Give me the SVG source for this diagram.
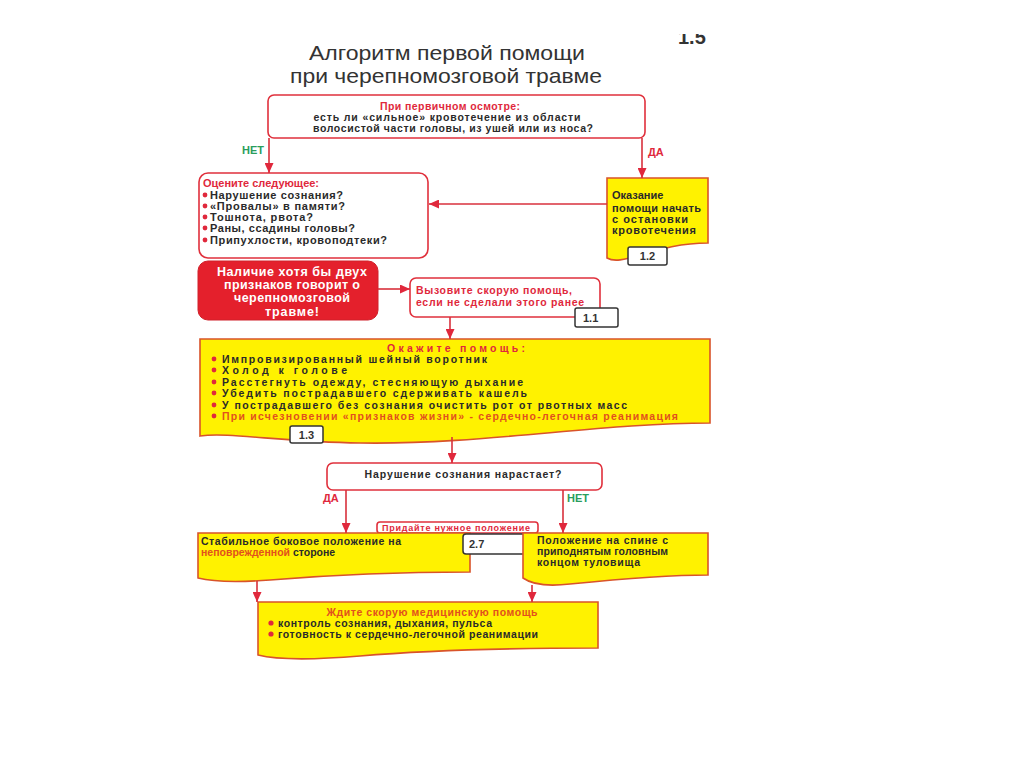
<svg xmlns="http://www.w3.org/2000/svg" width="1024" height="767" viewBox="0 0 1024 767">
<style>
text{font-family:"Liberation Sans",Arial,sans-serif;}
.ttl{font-size:21px;fill:#333;}
.b{font-size:10.5px;font-weight:bold;fill:#2a2a2a;}
.m{font-size:11px;}
.r{fill:#e0283c;}
.o{fill:#e2501e;}
.g{fill:#2a9d5c;}
.wb{fill:#fff;stroke:#e0303c;stroke-width:1.6;}
.yb{fill:#fff200;stroke:#d9532a;stroke-width:1.6;}
.lb{fill:#fff;stroke:#333;stroke-width:1.5;}
.lt{font-size:11px;font-weight:bold;fill:#333;}
.con{stroke:#d8303c;stroke-width:1.6;fill:none;marker-end:url(#ah);}
.dot{fill:#e0283c;}
.wt{font-size:12.5px;font-weight:bold;fill:#fff;}
</style>
<defs>
<marker id="ah" markerUnits="userSpaceOnUse" markerWidth="10" markerHeight="9" refX="10" refY="4.5" orient="auto">
<path d="M0,0 L10,4.5 L0,9 z" fill="#e0283c"/>
</marker>
<clipPath id="topclip"><rect x="600" y="34" width="200" height="30"/></clipPath>
</defs>
<rect width="1024" height="767" fill="#fff"/>

<g id="title">
<text class="ttl" x="447" y="60" text-anchor="middle" textLength="276" lengthAdjust="spacingAndGlyphs">Алгоритм первой помощи</text>
<text class="ttl" x="446" y="83" text-anchor="middle" textLength="312" lengthAdjust="spacingAndGlyphs">при черепномозговой травме</text>
<text x="678" y="44" clip-path="url(#topclip)" style="font-size:20px;font-weight:bold;fill:#333">1.5</text>
</g>

<g id="n-osmotr">
<rect class="wb" x="268" y="95" width="377" height="43" rx="6"/>
<text class="b r" x="450" y="110" text-anchor="middle" textLength="140" lengthAdjust="spacing">При первичном осмотре:</text>
<text class="b" x="447" y="121" text-anchor="middle" textLength="267" lengthAdjust="spacing">есть ли «сильное» кровотечение из области</text>
<text class="b" x="453" y="132" text-anchor="middle" textLength="280" lengthAdjust="spacing">волосистой части головы, из ушей или из носа?</text>
</g>

<g id="n-ocenite">
<rect class="wb" x="199" y="173" width="229" height="85" rx="9"/>
<text class="b m r" x="203" y="187" textLength="116" lengthAdjust="spacing">Оцените следующее:</text>
<circle class="dot" cx="205" cy="195" r="2.4"/>
<text class="b m" x="210" y="199" textLength="133" lengthAdjust="spacing">Нарушение сознания?</text>
<circle class="dot" cx="205" cy="206" r="2.4"/>
<text class="b m" x="210" y="210" textLength="135" lengthAdjust="spacing">«Провалы» в памяти?</text>
<circle class="dot" cx="205" cy="217" r="2.4"/>
<text class="b m" x="210" y="221" textLength="103" lengthAdjust="spacing">Тошнота, рвота?</text>
<circle class="dot" cx="205" cy="228" r="2.4"/>
<text class="b m" x="210" y="232" textLength="145" lengthAdjust="spacing">Раны, ссадины головы?</text>
<circle class="dot" cx="205" cy="240" r="2.4"/>
<text class="b m" x="210" y="244" textLength="177" lengthAdjust="spacing">Припухлости, кровоподтеки?</text>
</g>

<g id="n-1-2">
<path class="yb" d="M607,178 H708 V243 C 682,243 660,249 640,255 C 624,260 614,262 607,258 Z"/>
<text class="b m" x="612" y="199">Оказание</text>
<text class="b m" x="612" y="212" textLength="89" lengthAdjust="spacing">помощи начать</text>
<text class="b m" x="612" y="223" textLength="76" lengthAdjust="spacing">с остановки</text>
<text class="b m" x="612" y="234" textLength="84" lengthAdjust="spacing">кровотечения</text>
<rect class="lb" x="628" y="247" width="39" height="18" rx="2"/>
<text class="lt" x="647.5" y="260" text-anchor="middle">1.2</text>
</g>

<g id="n-nalichie">
<rect x="198" y="261" width="180" height="59" rx="10" fill="#e4202c" stroke="#d0202a" stroke-width="1"/>
<text class="wt" x="292" y="276" text-anchor="middle" textLength="150" lengthAdjust="spacing">Наличие хотя бы двух</text>
<text class="wt" x="292" y="289" text-anchor="middle" textLength="136" lengthAdjust="spacing">признаков говорит о</text>
<text class="wt" x="292" y="302" text-anchor="middle" textLength="116" lengthAdjust="spacing">черепномозговой</text>
<text class="wt" x="292" y="316" text-anchor="middle" textLength="54" lengthAdjust="spacing">травме!</text>
</g>

<g id="n-1-1">
<rect class="wb" x="410" y="278" width="190" height="39" rx="6"/>
<text class="b r" x="416" y="294" textLength="156" lengthAdjust="spacing">Вызовите скорую помощь,</text>
<text class="b r" x="416" y="306" textLength="168" lengthAdjust="spacing">если не сделали этого ранее</text>
<rect class="lb" x="575" y="308" width="43" height="19" rx="2"/>
<text class="lt" x="583" y="322">1.1</text>
</g>

<g id="n-1-3">
<path class="yb" d="M200,339 H710 V423 C 600,423 480,445 360,443 C 280,442 230,432 200,436 Z"/>
<text class="b r" x="456" y="352" text-anchor="middle" textLength="138" lengthAdjust="spacing">Окажите помощь:</text>
<circle class="dot" cx="214" cy="359" r="2.4"/>
<text class="b" x="222" y="363" textLength="265" lengthAdjust="spacing">Импровизированный шейный воротник</text>
<circle class="dot" cx="214" cy="370" r="2.4"/>
<text class="b" x="222" y="374" textLength="125" lengthAdjust="spacing">Холод к голове</text>
<circle class="dot" cx="214" cy="382" r="2.4"/>
<text class="b" x="222" y="386" textLength="301" lengthAdjust="spacing">Расстегнуть одежду, стесняющую дыхание</text>
<circle class="dot" cx="214" cy="393" r="2.4"/>
<text class="b" x="222" y="397" textLength="305" lengthAdjust="spacing">Убедить пострадавшего сдерживать кашель</text>
<circle class="dot" cx="214" cy="405" r="2.4"/>
<text class="b" x="222" y="409" textLength="405" lengthAdjust="spacing">У пострадавшего без сознания очистить рот от рвотных масс</text>
<circle class="dot" cx="214" cy="416" r="2.4"/>
<text class="b o" x="222" y="420" textLength="456" lengthAdjust="spacing">При исчезновении «признаков жизни» - сердечно-легочная реанимация</text>
<rect class="lb" x="290" y="426" width="33" height="17" rx="2"/>
<text class="lt" x="306.5" y="438.5" text-anchor="middle">1.3</text>
</g>

<g id="n-narushenie">
<rect class="wb" x="327" y="463" width="275" height="27" rx="6"/>
<text class="b" x="463" y="478" text-anchor="middle" textLength="197" lengthAdjust="spacing">Нарушение сознания нарастает?</text>
</g>

<g id="n-pridaite">
<rect class="wb" x="377" y="522" width="161" height="11" rx="3"/>
<text x="456" y="531" text-anchor="middle" textLength="148" lengthAdjust="spacing" style="font-size:9px;font-weight:bold;fill:#e0283c">Придайте нужное положение</text>
</g>

<g id="n-bokovoe">
<path class="yb" d="M198,533 H470 V572 C 400,572 330,575 270,580 C 230,583 210,581 198,578 Z"/>
<text class="b" x="201" y="545" textLength="200" lengthAdjust="spacing">Стабильное боковое положение на</text>
<text class="b" x="201" y="556"><tspan class="o">неповрежденной</tspan> стороне</text>
</g>

<g id="n-2-7">
<rect class="lb" x="463" y="534" width="64" height="20" rx="3"/>
<text class="lt" x="469" y="548">2.7</text>
</g>

<g id="n-spina">
<path class="yb" d="M523,533 H708 V575 C 660,575 610,580 570,584 C 545,587 530,583 523,578 Z"/>
<text class="b" x="537" y="544" textLength="131" lengthAdjust="spacing">Положение на спине с</text>
<text class="b" x="537" y="555" textLength="131" lengthAdjust="spacing">приподнятым головным</text>
<text class="b" x="537" y="566" textLength="103" lengthAdjust="spacing">концом туловища</text>
</g>

<g id="n-zhdite">
<path class="yb" d="M258,602 H598 V648 C 520,648 430,650 360,656 C 300,661 270,658 258,655 Z"/>
<text class="b o" x="432" y="616" text-anchor="middle" textLength="211" lengthAdjust="spacing">Ждите скорую медицинскую помощь</text>
<circle class="dot" cx="271" cy="623" r="2.6"/>
<text class="b" x="278" y="627" textLength="214" lengthAdjust="spacing">контроль сознания, дыхания, пульса</text>
<circle class="dot" cx="271" cy="634" r="2.6"/>
<text class="b" x="278" y="638" textLength="260" lengthAdjust="spacing">готовность к  сердечно-легочной реанимации</text>
</g>

<g id="connectors">
<path class="con" d="M269,138 V173"/>
<path class="con" d="M642,138 V178"/>
<path class="con" d="M607,204 H429"/>
<path class="con" d="M378,289 H410"/>
<path class="con" d="M450,317 V339"/>
<path class="con" d="M452,437 V463"/>
<path class="con" d="M346,490 V533"/>
<path class="con" d="M563,490 V533"/>
<path class="con" d="M257,581 V602"/>
<path class="con" d="M532,585 V602"/>
<text class="b g" x="242" y="154" style="font-size:11px">НЕТ</text>
<text class="b r" x="648" y="156" style="font-size:11px">ДА</text>
<text class="b r" x="323" y="502" style="font-size:11px">ДА</text>
<text class="b g" x="567" y="502" style="font-size:11px">НЕТ</text>
</g>
</svg>
